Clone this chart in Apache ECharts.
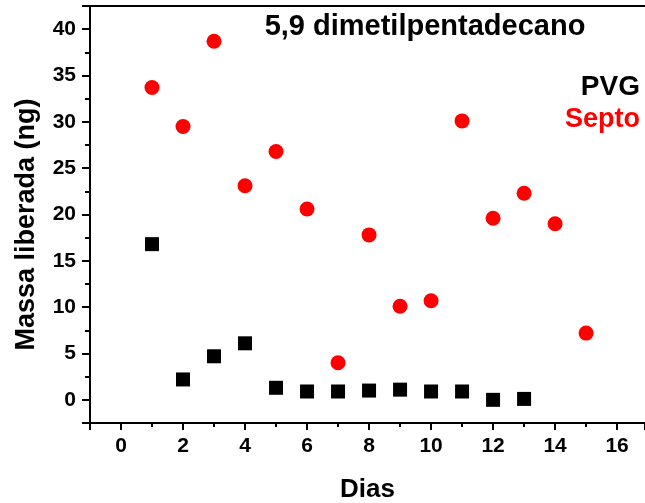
<!DOCTYPE html>
<html>
<head>
<meta charset="utf-8">
<script src="https://cdn.jsdelivr.net/npm/echarts@6/dist/echarts.min.js"></script>
<style>
  html, body { margin: 0; padding: 0; background: #fff; }
  #chart { width: 645px; height: 503px; }
</style>
</head>
<body>
<div id="chart"></div>
<script>
// dias de coleta
var diasPVG = [1, 2, 3, 4, 5, 6, 7, 8, 9, 10, 11, 12, 13];
var massaPVG = [16.8, 2.2, 4.7, 6.1, 1.3, 0.9, 0.9, 1.0, 1.1, 0.9, 0.9, 0.0, 0.1];
var diasSepto = [1, 2, 3, 4, 5, 6, 7, 8, 9, 10, 11, 12, 13, 14, 15];
var massaSepto = [33.7, 29.5, 38.7, 23.1, 26.8, 20.6, 4.0, 17.8, 10.1, 10.7, 30.1, 19.6, 22.3, 19.0, 7.2];

function pares(xs, ys) {
  var out = [];
  for (var i = 0; i < xs.length; i++) {
    out.push([xs[i], ys[i]]);
  }
  return out;
}

var FONT = '"Liberation Sans", Arial, sans-serif';
var chart = echarts.init(document.getElementById('chart'));

var option = {
  animation: false,
  textStyle: { fontFamily: FONT },
  grid: { left: 90, right: 0, top: 6, bottom: 80, outerBoundsMode: 'none', containLabel: false },
  xAxis: [
    {
      type: 'value',
      min: -1,
      max: 16.9,
      splitNumber: 9,
      name: 'Dias',
      nameLocation: 'middle',
      nameGap: 54,
      nameTextStyle: { fontSize: 26, fontWeight: 'bold', color: '#000', fontFamily: FONT },
      axisLine: { onZero: false, lineStyle: { color: '#000', width: 2 } },
      axisTick: { length: 7, lineStyle: { color: '#000', width: 2 } },
      minorTick: { show: true, splitNumber: 2, length: 4, lineStyle: { color: '#000', width: 2 } },
      splitLine: { show: false },
      axisLabel: {
        margin: 13,
        fontSize: 21,
        fontWeight: 'bold',
        color: '#000',
        fontFamily: FONT,
        formatter: function (v) {
          return (v % 2 === 0 && v >= 0 && v <= 16) ? String(v) : '';
        }
      }
    },
    {
      type: 'value',
      position: 'top',
      min: -1,
      max: 16.9,
      axisLine: { onZero: false, lineStyle: { color: '#000', width: 2 } },
      axisTick: { show: false },
      axisLabel: { show: false },
      splitLine: { show: false }
    }
  ],
  yAxis: {
    type: 'value',
    min: -2.5,
    max: 42.5,
    splitNumber: 9,
    name: 'Massa liberada (ng)',
    nameLocation: 'middle',
    nameGap: 50,
    nameTextStyle: { fontSize: 27, fontWeight: 'bold', color: '#000', fontFamily: FONT, padding: [0, 20, 0, 0] },
    axisLine: { onZero: false, lineStyle: { color: '#000', width: 2 } },
    axisTick: { length: 8, lineStyle: { color: '#000', width: 2 } },
    minorTick: { show: true, splitNumber: 2, length: 5, lineStyle: { color: '#000', width: 2 } },
    splitLine: { show: false },
    axisLabel: {
      margin: 14,
      fontSize: 21,
      fontWeight: 'bold',
      color: '#000',
      fontFamily: FONT,
      formatter: function (v) {
        return (v % 5 === 0 && v >= 0) ? String(v) : '';
      }
    }
  },
  graphic: [
    {
      type: 'text',
      style: { text: '5,9 dimetilpentadecano', x: 425, y: 27, textAlign: 'center', textVerticalAlign: 'middle',
        font: 'bold 29px ' + FONT, fill: '#000' }
    },
    {
      type: 'text',
      style: { text: 'PVG', x: 640, y: 87, textAlign: 'right', textVerticalAlign: 'middle',
        font: 'bold 28px ' + FONT, fill: '#000' }
    },
    {
      type: 'text',
      style: { text: 'Septo', x: 640, y: 120, textAlign: 'right', textVerticalAlign: 'middle',
        font: 'bold 27px ' + FONT, fill: '#ff0000' }
    }
  ],
  series: [
    {
      name: 'PVG',
      type: 'scatter',
      symbol: 'rect',
      symbolSize: 14,
      itemStyle: { color: '#000', opacity: 1 },
      data: pares(diasPVG, massaPVG)
    },
    {
      name: 'Septo',
      type: 'scatter',
      symbol: 'circle',
      symbolSize: 15,
      itemStyle: { color: '#ff0000', opacity: 1 },
      data: pares(diasSepto, massaSepto)
    }
  ]
};

chart.setOption(option);
</script>
</body>
</html>
